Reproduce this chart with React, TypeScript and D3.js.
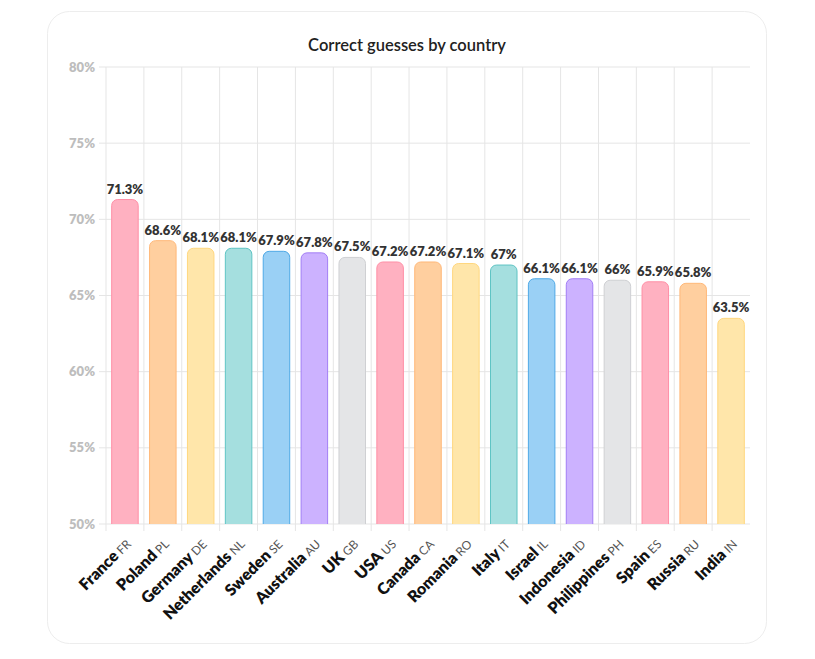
import React from "react";
import * as d3 from "d3";

const countries = ["France", "Poland", "Germany", "Netherlands", "Sweden", "Australia", "UK", "USA", "Canada", "Romania", "Italy", "Israel", "Indonesia", "Philippines", "Spain", "Russia", "India"];
const codes = ["FR", "PL", "DE", "NL", "SE", "AU", "GB", "US", "CA", "RO", "IT", "IL", "ID", "PH", "ES", "RU", "IN"];
const values = [71.3, 68.6, 68.1, 68.1, 67.9, 67.8, 67.5, 67.2, 67.2, 67.1, 67, 66.1, 66.1, 66, 65.9, 65.8, 63.5];
const yTicks = [50, 55, 60, 65, 70, 75, 80];

const fills = ["#ffb1c1", "#ffcf9f", "#ffe6aa", "#a5dfdf", "#9ad0f5", "#ccb2ff", "#e4e5e7"];
const strokes = ["#ff8fa6", "#ffb878", "#ffd77f", "#5fc4c4", "#4fa9e6", "#a27ef5", "#cfd0d3"];

const FONT = "Lato, 'Noto Sans', sans-serif";

export default function App() {
  const width = 815;
  const height = 659;
  const left = 106;
  const right = 750;
  const top = 67;
  const bottom = 524;

  const x = d3.scaleBand<string>().domain(countries).range([left, right]).paddingInner(0).paddingOuter(0);
  const y = d3.scaleLinear().domain([50, 80]).range([bottom, top]);
  const barW = x.bandwidth() * 0.7;
  const r = 6;

  const barPath = (cx: number, v: number) => {
    const x0 = cx - barW / 2;
    const x1 = cx + barW / 2;
    const yt = y(v);
    const p = d3.path();
    p.moveTo(x0, bottom);
    p.lineTo(x0, yt + r);
    p.arcTo(x0, yt, x0 + r, yt, r);
    p.lineTo(x1 - r, yt);
    p.arcTo(x1, yt, x1, yt + r, r);
    p.lineTo(x1, bottom);
    return p.toString();
  };

  return (
    <svg width={width} height={height} style={{ display: "block", position: "absolute", left: 0, top: 0 }}>
      <rect x={47.5} y={11.5} width={719} height={632} rx={22} fill="#fff" stroke="#ededed" />
      <text x={407} y={51} textAnchor="middle" fontFamily={FONT} fontSize={16.5} fontWeight={600} fill="#222">
        Correct guesses by country
      </text>

      {yTicks.map((t) => (
        <g key={t}>
          <line x1={99} x2={right} y1={y(t)} y2={y(t)} stroke="#e5e5e5" />
          <text x={95} y={y(t)} dy="0.35em" textAnchor="end" fontFamily={FONT} fontSize={13} fontWeight={800} fill="#bdbdbd">
            {t}%
          </text>
        </g>
      ))}

      {countries.map((c) => (
        <line key={c} x1={x(c)!} x2={x(c)!} y1={top} y2={bottom + 7} stroke="#e5e5e5" />
      ))}

      {countries.map((c, i) => {
        const cx = x(c)! + x.bandwidth() / 2;
        return (
          <g key={c}>
            <path d={barPath(cx, values[i])} fill={fills[i % 7]} stroke={strokes[i % 7]} strokeWidth={1} />
            <text x={cx} y={y(values[i]) - 6} textAnchor="middle" fontFamily={FONT} fontSize={13} fontWeight={800} fill="#333">
              {values[i]}%
            </text>
            <text transform={`translate(${cx + 7},${bottom + 21}) rotate(-45)`} textAnchor="end" fontFamily={FONT}>
              <tspan fontSize={16} fontWeight={800} fill="#111">{c}</tspan>
              <tspan fontSize={12} fill="#555" dx={3}>{codes[i]}</tspan>
            </text>
          </g>
        );
      })}
    </svg>
  );
}
